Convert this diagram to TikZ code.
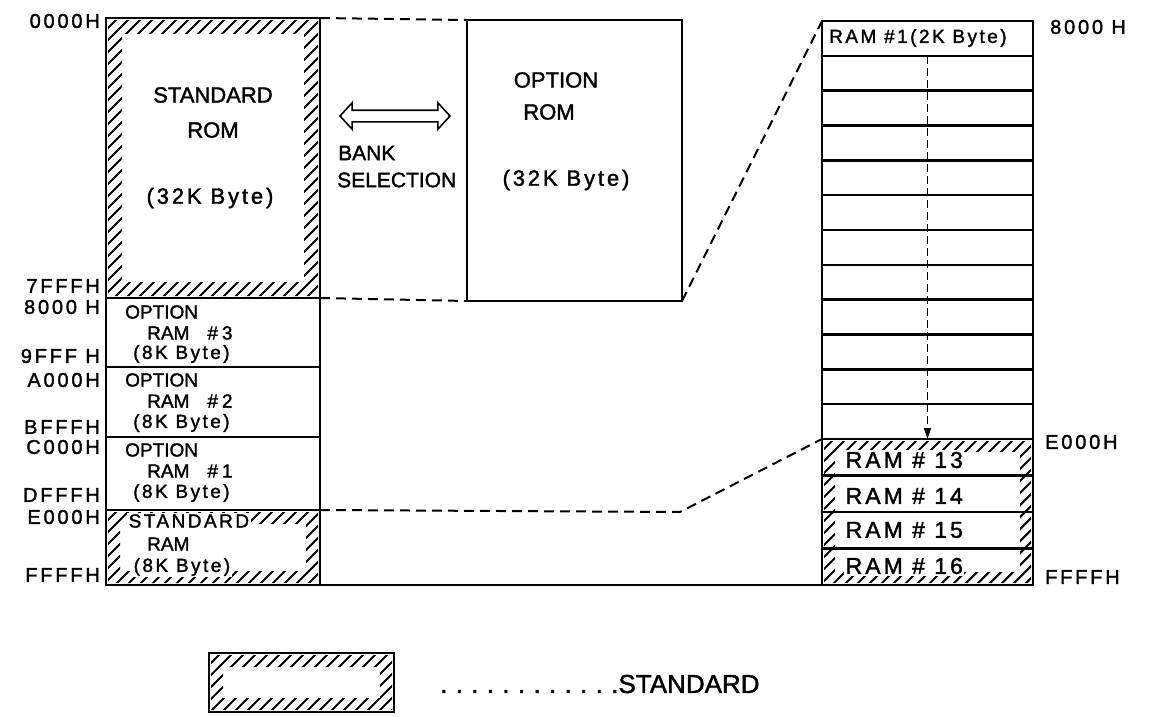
\documentclass[tikz,border=0pt]{standalone}
\usepackage{fontspec}
\setmainfont{Liberation Sans}[FakeBold=1.6]
\newfontfamily\addrfont{Liberation Sans}[LetterSpace=14,FakeBold=1.6]
\newfontfamily\parfont{Liberation Sans}[LetterSpace=13,FakeBold=1.6]
\newfontfamily\dotfont{Liberation Sans}[LetterSpace=32,FakeBold=1.6]
\usetikzlibrary{shapes.arrows,arrows.meta}
\tikzset{
  box/.style={draw, line width=2.4pt, inner sep=0pt, outer sep=0pt, anchor=north west},
  hatchline/.style={line width=2.1pt},
  conn/.style={line width=2pt, dash pattern=on 10pt off 6pt},
  solidconn/.style={line width=2pt},
  flowarrow/.style={line width=1.6pt, dash pattern=on 8pt off 4pt, -{Triangle[length=11pt,width=7pt]}},
  txt/.style={inner sep=0pt, font=\fontsize{19}{21}\selectfont},
  bigtxt/.style={inner sep=0pt, font=\fontsize{22}{24}\selectfont},
  addr/.style={inner sep=0pt, font=\fontsize{20}{22}\selectfont\addrfont},
  wtxt/.style={txt, fill=white, inner sep=1.5pt},
}
\newcommand{\hatchband}[5]{%
  \begin{scope}[even odd rule]
    \clip ({#1+2},{#2+2}) rectangle ({#3-2},{#4-2}) ({#1+#5},{#2+#5}) rectangle ({#3-#5},{#4-#5});
    \pgfmathsetmacro{\hhb}{(#4)-(#2)}
    \pgfmathsetmacro{\xsa}{#1-\hhb}
    \pgfmathsetmacro{\xsb}{#1-\hhb+12}
    \foreach \c in {\xsa,\xsb,...,#3} \draw[hatchline] (\c,#4) -- ++(\hhb,-\hhb);
  \end{scope}}
\begin{document}
\begin{tikzpicture}[x=1pt,y=-1pt]
\useasboundingbox (0,0) rectangle (1149,717);

% hatching
\hatchband{106}{18}{320}{298}{16}
\hatchband{106}{510}{320}{585}{14}
\hatchband{822}{439}{1033}{585}{13}
\hatchband{209}{653}{394}{712}{14}

% left column
\node[box, minimum width=214pt, minimum height=280pt] (rom) at (106,18) {};
\node[box, minimum width=214pt, minimum height=69pt] (or3) at (106,298) {};
\node[box, minimum width=214pt, minimum height=70pt] (or2) at (106,367) {};
\node[box, minimum width=214pt, minimum height=73pt] (or1) at (106,437) {};
\node[box, minimum width=214pt, minimum height=75pt] (sr) at (106,510) {};

% option ROM
\node[box, minimum width=215pt, minimum height=281pt] (optrom) at (467,20) {};

% right column
\foreach \i in {1,...,12}
  \node[box, minimum width=211pt, minimum height=34.83pt] (r\i) at (822,{21+(\i-1)*34.833}) {};
\foreach \i in {13,...,16}
  \node[box, minimum width=211pt, minimum height=36.5pt] (r\i) at (822,{439+(\i-13)*36.5}) {};

% legend box
\node[box, minimum width=185pt, minimum height=59pt] (legbox) at (209,653) {};

% connectors
\draw[conn] (rom.north east) -- (optrom.north west);
\draw[conn] (rom.south east) -- (optrom.south west);
\draw[conn] (optrom.south east) -- (r1.north west);
\coordinate (bend) at (680,512);
\draw[conn] (or1.south east) -- (bend) -- (r13.north west);
\draw[solidconn] (sr.south east) -- (r16.south west);
\draw[flowarrow] (r1.south) -- (r13.north);

% bank selection arrow
\node[double arrow, draw, line width=1.6pt, inner sep=5pt, minimum height=110pt,
      double arrow head extend=7.5pt, double arrow tip angle=95] (bank) at (395,116) {};

% address labels left
\node[addr, anchor=east] (a0) at (100,21) {0000H};
\node[addr, anchor=east] (a1) at (100,286) {7FFFH};
\node[addr, anchor=east] (a2) at (100,307) {8000 H};
\node[addr, anchor=east] (a3) at (100,356) {9FFF H};
\node[addr, anchor=east] (a4) at (100,380) {A000H};
\node[addr, anchor=east] (a5) at (100,427) {BFFFH};
\node[addr, anchor=east] (a6) at (100,447) {C000H};
\node[addr, anchor=east] (a7) at (100,495) {DFFFH};
\node[addr, anchor=east] (a8) at (100,517) {E000H};
\node[addr, anchor=east] (a9) at (100,575) {FFFFH};

% address labels right
\node[addr, anchor=west] (b0) at (1050,27) {8000 H};
\node[addr, anchor=west] (b1) at (1045,442) {E000H};
\node[addr, anchor=west] (b2) at (1045,577) {FFFFH};

% standard ROM text
\node[bigtxt] (s1) at (213,95) {STANDARD};
\node[bigtxt] (s2) at (213,130) {ROM};
\node[bigtxt, font=\fontsize{22}{24}\selectfont\parfont] (s3) at (210,198) {(32K Byte)};

% option ROM text
\node[bigtxt] (o1) at (556,80) {OPTION};
\node[bigtxt] (o2) at (549,112) {ROM};
\node[bigtxt, font=\fontsize{22}{24}\selectfont\parfont] (o3) at (566,180) {(32K Byte)};

% bank selection text
\node[txt, font=\fontsize{21}{23}\selectfont, anchor=west] (bk1) at (338,153) {BANK};
\node[txt, font=\fontsize{21}{23}\selectfont, anchor=west] (bk2) at (337,180) {SELECTION};

% option RAM rows
\node[txt, anchor=west] (p31) at (125,312) {OPTION};
\node[txt, anchor=west] (p32) at (147,333) {RAM\hspace{18pt}\#\hspace{4pt}3};
\node[txt, anchor=west, font=\fontsize{19}{21}\selectfont\parfont] (p33) at (133,354) {(8K Byte)};
\node[txt, anchor=west] (p21) at (125,380) {OPTION};
\node[txt, anchor=west] (p22) at (147,401) {RAM\hspace{18pt}\#\hspace{4pt}2};
\node[txt, anchor=west, font=\fontsize{19}{21}\selectfont\parfont] (p23) at (133,423) {(8K Byte)};
\node[txt, anchor=west] (p11) at (125,450) {OPTION};
\node[txt, anchor=west] (p12) at (147,471) {RAM\hspace{18pt}\#\hspace{4pt}1};
\node[txt, anchor=west, font=\fontsize{19}{21}\selectfont\parfont] (p13) at (133,493) {(8K Byte)};

% standard RAM
\node[wtxt, anchor=west, font=\fontsize{19}{21}\selectfont\parfont] (q1) at (127,521) {STANDARD};
\node[txt, anchor=west] (q2) at (147,544) {RAM};
\node[wtxt, anchor=west, font=\fontsize{19}{21}\selectfont\parfont] (q3) at (132,567) {(8K Byte)};

% right column text
\node[txt, anchor=west, font=\fontsize{19}{21}\selectfont\parfont] (rt1) at (829,38) {RAM \#1(2K Byte)};
\node[wtxt, anchor=west, font=\fontsize{23}{25}\selectfont\parfont] (rt13) at (844,460) {RAM \# 13};
\node[wtxt, anchor=west, font=\fontsize{23}{25}\selectfont\parfont] (rt14) at (844,496) {RAM \# 14};
\node[wtxt, anchor=west, font=\fontsize{23}{25}\selectfont\parfont] (rt15) at (844,530) {RAM \# 15};
\node[wtxt, anchor=west, font=\fontsize{23}{25}\selectfont\parfont] (rt16) at (844,566) {RAM \# 16};

% legend text
\node[inner sep=0pt, anchor=west, font=\fontsize{26}{28}\selectfont] (leg) at (440,684) {{\dotfont............}STANDARD};
\end{tikzpicture}
\end{document}
